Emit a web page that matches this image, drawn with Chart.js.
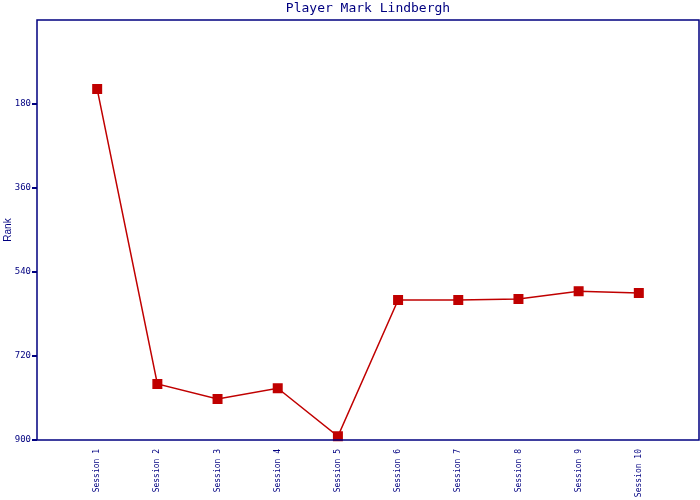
<!DOCTYPE html>
<html>
<head>
<meta charset="utf-8">
<script src="https://cdn.jsdelivr.net/npm/chart.js@4/dist/chart.umd.min.js"></script>
<style>
html,body{margin:0;padding:0;background:#fff;}
canvas{display:block;}
</style>
</head>
<body>
<canvas id="c" width="700" height="500"></canvas>
<script>
const sessions = ['Session 1','Session 2','Session 3','Session 4','Session 5','Session 6','Session 7','Session 8','Session 9','Session 10'];
const rankValues = [148, 780, 812, 789, 892, 600, 600, 598, 581, 585];
const yTicks = [180, 360, 540, 720, 900];
const chartTitle = 'Player Mark Lindbergh';

const NAVY = '#000080';
const RED = '#c00000';

const borderPlugin = {
  id: 'plotBorder',
  afterDraw(chart) {
    const a = chart.chartArea, ctx = chart.ctx;
    ctx.save();
    ctx.strokeStyle = NAVY;
    ctx.lineWidth = 1.5;
    ctx.strokeRect(a.left, a.top, a.right - a.left, a.bottom - a.top);
    ctx.fillStyle = NAVY;
    ctx.font = '13px "DejaVu Sans Mono"';
    ctx.textAlign = 'center';
    ctx.textBaseline = 'middle';
    ctx.fillText(chartTitle, (a.left + a.right) / 2, 9);
    ctx.restore();
  }
};

new Chart(document.getElementById('c'), {
  type: 'line',
  data: {
    datasets: [{
      data: rankValues.map((v, i) => ({x: i + 1, y: v})),
      borderColor: RED,
      backgroundColor: RED,
      borderWidth: 1.5,
      pointStyle: 'rect',
      pointRadius: 6,
      pointHoverRadius: 6,
      pointBackgroundColor: RED,
      pointBorderColor: RED,
      tension: 0,
      fill: false,
      clip: false
    }]
  },
  options: {
    responsive: false,
    animation: false,
    devicePixelRatio: 1,
    layout: {autoPadding: false, padding: {left: 0, right: 1, top: 20, bottom: 0}},
    plugins: {
      legend: {display: false},
      tooltip: {enabled: false},
      title: {display: false}
    },
    scales: {
      x: {
        type: 'linear',
        min: 0,
        max: 11,
        afterBuildTicks(scale) {
          scale.ticks = sessions.map((s, i) => ({value: i + 1}));
        },
        afterFit(scale) {
          scale.height = 60;
          scale.paddingLeft = 0;
          scale.paddingRight = 0;
        },
        ticks: {
          autoSkip: false,
          maxRotation: 90,
          minRotation: 90,
          padding: 1,
          color: NAVY,
          font: {family: 'DejaVu Sans Mono', size: 8},
          callback: (v) => sessions[v - 1] || ''
        },
        grid: {display: false},
        border: {display: false}
      },
      y: {
        reverse: true,
        min: 0,
        max: 900,
        afterBuildTicks(scale) {
          scale.ticks = yTicks.map(v => ({value: v}));
        },
        afterFit(scale) {
          scale.width = 37;
          scale.paddingTop = 0;
          scale.paddingBottom = 0;
        },
        title: {
          display: true,
          text: 'Rank',
          color: NAVY,
          font: {family: 'Liberation Sans', size: 10},
          padding: {top: 2, bottom: 0}
        },
        ticks: {
          padding: 1,
          color: NAVY,
          font: {family: 'DejaVu Sans Mono', size: 9}
        },
        grid: {
          drawOnChartArea: false,
          drawTicks: true,
          tickLength: 5,
          tickColor: NAVY,
          tickWidth: 2,
          color: NAVY,
          lineWidth: 2
        },
        border: {display: false}
      }
    }
  },
  plugins: [borderPlugin]
});
</script>
</body>
</html>
